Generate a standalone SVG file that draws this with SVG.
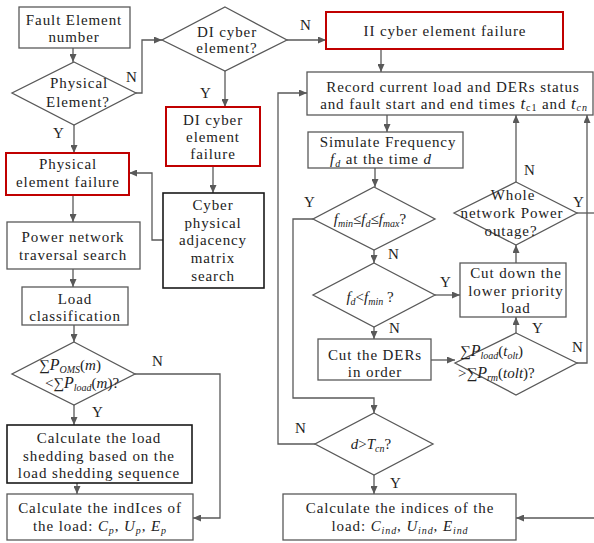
<svg xmlns="http://www.w3.org/2000/svg" width="594" height="543" viewBox="0 0 594 543">
<style>
.t{font-family:"Liberation Serif","Times New Roman",serif;font-size:15px;fill:#222;letter-spacing:0.9px;text-anchor:middle}
.m{letter-spacing:0;font-size:15px}
.i{font-style:italic}
.s{font-size:10px}
.box{fill:#fff;stroke:#595959;stroke-width:1.3}
.red{fill:#fff;stroke:#c00000;stroke-width:2}
.blk{fill:#fff;stroke:#1a1a1a;stroke-width:1.6}
.ln{fill:none;stroke:#595959;stroke-width:1.3;marker-end:url(#ah)}
.ln0{fill:none;stroke:#595959;stroke-width:1.3}
.lb{font-family:"Liberation Serif","Times New Roman",serif;font-size:15px;fill:#222}
</style>
<defs>
<marker id="ah" markerUnits="userSpaceOnUse" markerWidth="9" markerHeight="7" refX="8" refY="3.5" orient="auto">
<path d="M0,0 L8,3.5 L0,7 z" fill="#595959"/>
</marker>
</defs>

<g id="connectors">
<path class="ln" d="M73,48 V62"/>
<path class="ln" d="M136,93 H142 V40 H162"/>
<path class="ln" d="M287,40 H326"/>
<path class="ln" d="M225,71 V107"/>
<path class="ln" d="M74,125 V153"/>
<path class="ln" d="M213,166 V193"/>
<path class="ln" d="M163,240 H152 V173 H129"/>
<path class="ln" d="M73,195 V222"/>
<path class="ln" d="M73,269 V287"/>
<path class="ln" d="M74,325 V342"/>
<path class="ln" d="M74,405 V425"/>
<path class="ln" d="M77,483 V494"/>
<path class="ln" d="M135,374 H220 V518 H193"/>
<path class="ln" d="M381,49 V72"/>
<path class="ln" d="M387,115 V132"/>
<path class="ln" d="M375,168 V187"/>
<path class="ln" d="M374,250 V263"/>
<path class="ln" d="M374,327 V339"/>
<path class="ln" d="M313,219 H293 V398 H374 V413"/>
<path class="ln" d="M435,295 H460"/>
<path class="ln" d="M431,360 H455"/>
<path class="ln" d="M516,333 V317"/>
<path class="ln" d="M516,263 V245"/>
<path class="ln" d="M516,182 V115"/>
<path class="ln0" d="M577,213 H594"/>
<path class="ln" d="M577,363 H587 V115"/>
<path class="ln" d="M315,444 H278 V93 H307"/>
<path class="ln" d="M374,475 V494"/>
<path class="ln" d="M594,518 H516"/>
</g>

<g id="labels">
<text class="lb" x="126" y="82">N</text>
<text class="lb" x="200" y="98">Y</text>
<text class="lb" x="300" y="30">N</text>
<text class="lb" x="53" y="138">Y</text>
<text class="lb" x="524" y="175">N</text>
<text class="lb" x="573" y="207">Y</text>
<text class="lb" x="304" y="207">Y</text>
<text class="lb" x="388" y="259">N</text>
<text class="lb" x="440" y="287">Y</text>
<text class="lb" x="389" y="333">N</text>
<text class="lb" x="532" y="333">Y</text>
<text class="lb" x="572" y="352">N</text>
<text class="lb" x="92" y="417">Y</text>
<text class="lb" x="152" y="366">N</text>
<text class="lb" x="295" y="433">N</text>
<text class="lb" x="390" y="488">Y</text>
</g>

<g id="fault-element">
<rect class="box" x="19" y="7" width="111" height="41"/>
<text class="t" x="74" y="25">Fault Element</text>
<text class="t" x="74" y="42">number</text>
</g>

<g id="physical-element-q">
<polygon class="box" points="74,62 136,93 74,125 12,93"/>
<text class="t" x="79" y="88">Physical</text>
<text class="t" x="78" y="107">Element?</text>
</g>

<g id="di-cyber-q">
<polygon class="box" points="225,7 287,40 225,71 162,40"/>
<text class="t" x="227" y="37">DI cyber</text>
<text class="t" x="227" y="53">element?</text>
</g>

<g id="ii-cyber-failure">
<rect class="red" x="326" y="12" width="237" height="37"/>
<text class="t" x="445" y="36">II cyber element failure</text>
</g>

<g id="di-cyber-failure">
<rect class="red" x="166" y="107" width="94" height="59"/>
<text class="t" x="213" y="125">DI cyber</text>
<text class="t" x="213" y="142">element</text>
<text class="t" x="213" y="159">failure</text>
</g>

<g id="physical-failure">
<rect class="red" x="6" y="153" width="123" height="42"/>
<text class="t" x="68" y="169">Physical</text>
<text class="t" x="68" y="187">element failure</text>
</g>

<g id="cyber-physical-search">
<rect class="blk" x="163" y="193" width="101" height="95"/>
<text class="t" x="213" y="210">Cyber</text>
<text class="t" x="213" y="228">physical</text>
<text class="t" x="213" y="245">adjacency</text>
<text class="t" x="213" y="263">matrix</text>
<text class="t" x="213" y="281">search</text>
</g>

<g id="power-network">
<rect class="box" x="7" y="222" width="133" height="47"/>
<text class="t" x="73" y="242">Power network</text>
<text class="t" x="73" y="260">traversal search</text>
</g>

<g id="load-classification">
<rect class="box" x="22" y="287" width="106" height="38"/>
<text class="t" x="75" y="304">Load</text>
<text class="t" x="75" y="321">classification</text>
</g>

<g id="oms-q">
<polygon class="box" points="74,342 135,374 74,405 12,374"/>
<text class="t m" x="70" y="370">∑<tspan class="i" font-size="16">P</tspan><tspan class="i s" dy="3">OMS</tspan><tspan dy="-3">(</tspan><tspan class="i">m</tspan>)</text>
<text class="t m" x="82" y="388">&lt;∑<tspan class="i" font-size="16">P</tspan><tspan class="i s" dy="3">load</tspan><tspan dy="-3">(</tspan><tspan class="i">m</tspan>)?</text>
</g>

<g id="load-shedding">
<rect class="blk" x="7" y="425" width="185" height="58"/>
<text class="t" x="99" y="443">Calculate the load</text>
<text class="t" x="99" y="461">shedding based on the</text>
<text class="t" x="99" y="478">load shedding sequence</text>
</g>

<g id="indices-physical">
<rect class="box" x="7" y="494" width="186" height="46"/>
<text class="t" x="100" y="513">Calculate the indIces of</text>
<text class="t" x="100" y="531">the load: <tspan class="i">C</tspan><tspan class="i s" dy="3">p</tspan><tspan dy="-3">, </tspan><tspan class="i">U</tspan><tspan class="i s" dy="3">p</tspan><tspan dy="-3">, </tspan><tspan class="i">E</tspan><tspan class="i s" dy="3">p</tspan></text>
</g>

<g id="record">
<rect class="box" x="307" y="72" width="286" height="43"/>
<text class="t" x="453" y="92">Record current load and DERs status</text>
<text class="t" x="454" y="109">and fault start and end times <tspan class="i" font-size="17">t</tspan><tspan class="s" dy="2" font-size="11">c1</tspan><tspan dy="-2"> and </tspan><tspan class="i" font-size="17">t</tspan><tspan class="i s" dy="2" font-size="11">cn</tspan></text>
</g>

<g id="simulate">
<rect class="box" x="308" y="132" width="155" height="36"/>
<text class="t" x="388" y="147">Simulate Frequency</text>
<text class="t" x="381" y="164"><tspan class="i">f</tspan><tspan class="i s" dy="3">d</tspan><tspan dy="-3"> at the time </tspan><tspan class="i">d</tspan></text>
</g>

<g id="freq-range-q">
<polygon class="box" points="374,187 435,219 374,250 313,219"/>
<text class="t m" x="370" y="224"><tspan class="i">f</tspan><tspan class="i s" dy="3">min</tspan><tspan dy="-3">≤</tspan><tspan class="i">f</tspan><tspan class="i s" dy="3">d</tspan><tspan dy="-3">≤</tspan><tspan class="i">f</tspan><tspan class="i s" dy="3">max</tspan><tspan dy="-3">?</tspan></text>
</g>

<g id="freq-low-q">
<polygon class="box" points="374,263 435,295 374,327 313,295"/>
<text class="t m" x="370" y="302"><tspan class="i">f</tspan><tspan class="i s" dy="3">d</tspan><tspan dy="-3">&lt;</tspan><tspan class="i">f</tspan><tspan class="i s" dy="3">min</tspan><tspan dy="-3"> ?</tspan></text>
</g>

<g id="cut-ders">
<rect class="box" x="318" y="339" width="113" height="41"/>
<text class="t" x="375" y="360">Cut the DERs</text>
<text class="t" x="375" y="377">in order</text>
</g>

<g id="cut-lower">
<rect class="box" x="460" y="263" width="106" height="54"/>
<text class="t" x="516" y="278">Cut down the</text>
<text class="t" x="516" y="296">lower priority</text>
<text class="t" x="516" y="313">load</text>
</g>

<g id="whole-outage-q">
<polygon class="box" points="516,182 577,213 516,245 454,213"/>
<text class="t" x="513" y="200">Whole</text>
<text class="t" x="512" y="218">network Power</text>
<text class="t" x="511" y="236">outage?</text>
</g>

<g id="pload-q">
<polygon class="box" points="516,333 577,363 516,395 455,363"/>
<text class="t m" x="460" y="356" style="text-anchor:start">∑<tspan class="i" font-size="16">P</tspan><tspan class="i s" dy="3">load</tspan><tspan dy="-3">(</tspan><tspan class="i">t</tspan><tspan class="i s" dy="3">olt</tspan><tspan dy="-3">)</tspan></text>
<text class="t m" x="458" y="378" style="text-anchor:start">&gt;∑<tspan class="i" font-size="16">P</tspan><tspan class="i s" dy="3">rm</tspan><tspan dy="-3">(</tspan><tspan class="i">tolt</tspan>)?</text>
</g>

<g id="time-q">
<polygon class="box" points="374,413 433,444 374,475 315,444"/>
<text class="t m" x="371" y="449"><tspan class="i">d</tspan>&gt;<tspan class="i">T</tspan><tspan class="i s" dy="3">cn</tspan><tspan dy="-3">?</tspan></text>
</g>

<g id="indices-cyber">
<rect class="box" x="283" y="494" width="233" height="46"/>
<text class="t" x="400" y="513">Calculate the indices of the</text>
<text class="t" x="400" y="531">load: <tspan class="i">C</tspan><tspan class="i s" dy="3">ind</tspan><tspan dy="-3">, </tspan><tspan class="i">U</tspan><tspan class="i s" dy="3">ind</tspan><tspan dy="-3">, </tspan><tspan class="i">E</tspan><tspan class="i s" dy="3">ind</tspan></text>
</g>
</svg>
